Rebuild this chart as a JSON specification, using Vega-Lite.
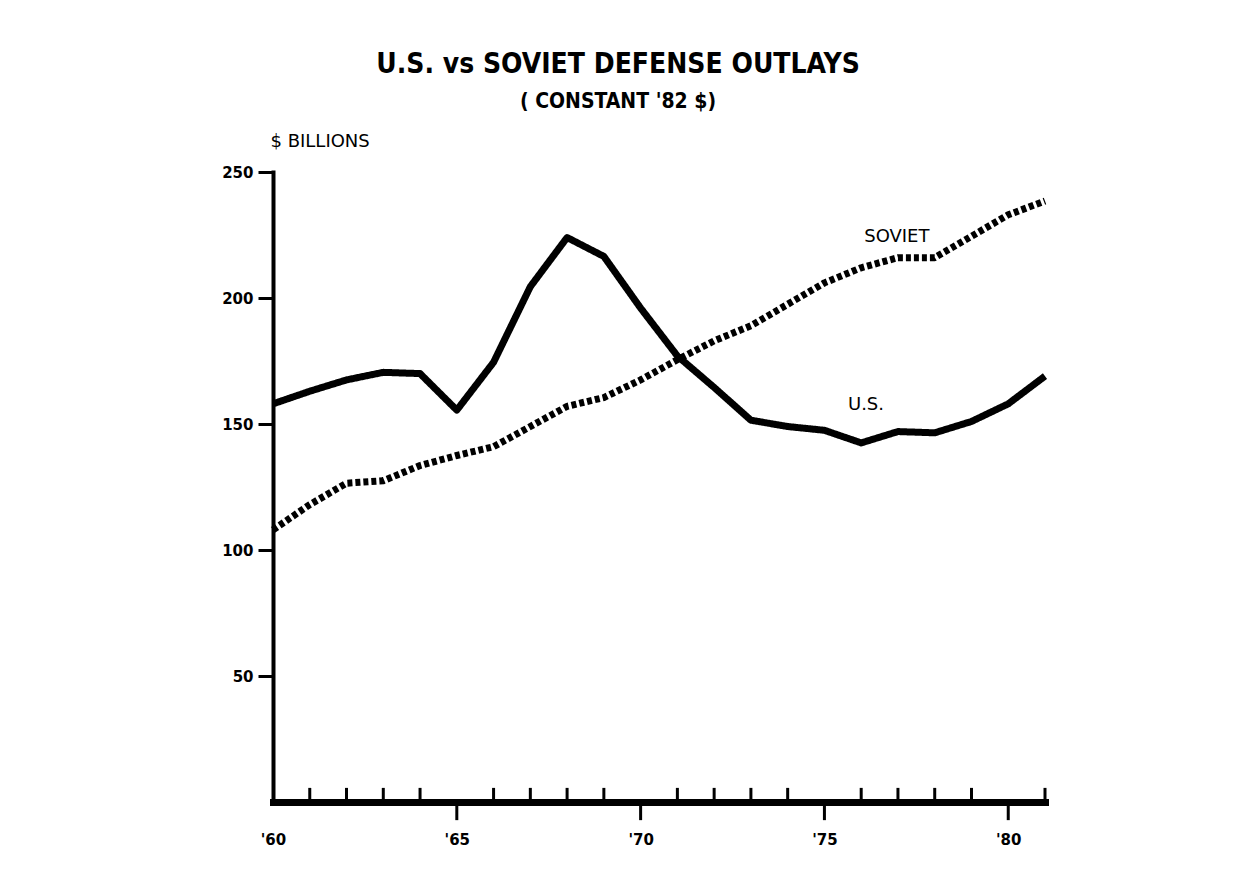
{
  "$schema": "https://vega.github.io/schema/vega-lite/v6.json",
  "width": 772,
  "height": 630,
  "autosize": "none",
  "padding": {"left": 273, "top": 172, "right": 209, "bottom": 82},
  "background": "white",
  "config": {"view": {"stroke": null}},
  "title": {
    "text": "U.S. vs SOVIET DEFENSE OUTLAYS",
    "subtitle": "( CONSTANT '82 $)",
    "anchor": "middle",
    "frame": "group",
    "dx": -41,
    "offset": 20,
    "font": "DejaVu Sans Condensed, Liberation Sans Narrow, sans-serif",
    "fontSize": 28,
    "fontWeight": "bold",
    "color": "black",
    "subtitleFont": "DejaVu Sans Condensed, Liberation Sans Narrow, sans-serif",
    "subtitleFontSize": 21,
    "subtitleFontWeight": "bold",
    "subtitleColor": "black",
    "subtitlePadding": 12
  },
  "resolve": {"axis": {"x": "independent"}},
  "datasets": {
    "outlays": [
      {"year": 1960, "value": 158, "series": "U.S."},
      {"year": 1961, "value": 163, "series": "U.S."},
      {"year": 1962, "value": 167.5, "series": "U.S."},
      {"year": 1963, "value": 170.5, "series": "U.S."},
      {"year": 1964, "value": 170, "series": "U.S."},
      {"year": 1965, "value": 155.5, "series": "U.S."},
      {"year": 1966, "value": 174.5, "series": "U.S."},
      {"year": 1967, "value": 204.5, "series": "U.S."},
      {"year": 1968, "value": 224, "series": "U.S."},
      {"year": 1969, "value": 216.5, "series": "U.S."},
      {"year": 1970, "value": 196, "series": "U.S."},
      {"year": 1971, "value": 177, "series": "U.S."},
      {"year": 1972, "value": 164.5, "series": "U.S."},
      {"year": 1973, "value": 151.5, "series": "U.S."},
      {"year": 1974, "value": 149, "series": "U.S."},
      {"year": 1975, "value": 147.5, "series": "U.S."},
      {"year": 1976, "value": 142.5, "series": "U.S."},
      {"year": 1977, "value": 147, "series": "U.S."},
      {"year": 1978, "value": 146.5, "series": "U.S."},
      {"year": 1979, "value": 151, "series": "U.S."},
      {"year": 1980, "value": 158, "series": "U.S."},
      {"year": 1981, "value": 169, "series": "U.S."},
      {"year": 1960, "value": 108, "series": "SOVIET"},
      {"year": 1961, "value": 118, "series": "SOVIET"},
      {"year": 1962, "value": 126.5, "series": "SOVIET"},
      {"year": 1963, "value": 127.5, "series": "SOVIET"},
      {"year": 1964, "value": 133.5, "series": "SOVIET"},
      {"year": 1965, "value": 137.5, "series": "SOVIET"},
      {"year": 1966, "value": 141, "series": "SOVIET"},
      {"year": 1967, "value": 149, "series": "SOVIET"},
      {"year": 1968, "value": 157, "series": "SOVIET"},
      {"year": 1969, "value": 160.5, "series": "SOVIET"},
      {"year": 1970, "value": 167.5, "series": "SOVIET"},
      {"year": 1971, "value": 175.5, "series": "SOVIET"},
      {"year": 1972, "value": 183, "series": "SOVIET"},
      {"year": 1973, "value": 189, "series": "SOVIET"},
      {"year": 1974, "value": 197.5, "series": "SOVIET"},
      {"year": 1975, "value": 206, "series": "SOVIET"},
      {"year": 1976, "value": 212, "series": "SOVIET"},
      {"year": 1977, "value": 216, "series": "SOVIET"},
      {"year": 1978, "value": 216, "series": "SOVIET"},
      {"year": 1979, "value": 224.5, "series": "SOVIET"},
      {"year": 1980, "value": 233, "series": "SOVIET"},
      {"year": 1981, "value": 238.5, "series": "SOVIET"}
    ],
    "minorYears": [
      {"year": 1961}, {"year": 1962}, {"year": 1963}, {"year": 1964},
      {"year": 1966}, {"year": 1967}, {"year": 1968}, {"year": 1969},
      {"year": 1971}, {"year": 1972}, {"year": 1973}, {"year": 1974},
      {"year": 1976}, {"year": 1977}, {"year": 1978}, {"year": 1979},
      {"year": 1981}
    ],
    "majorYears": [
      {"year": 1965}, {"year": 1970}, {"year": 1975}, {"year": 1980}
    ]
  },
  "layer": [
    {
      "data": {"name": "outlays"},
      "mark": {"type": "line", "color": "black", "strokeWidth": 7, "strokeJoin": "round", "strokeCap": "butt"},
      "encoding": {
        "x": {
          "field": "year",
          "type": "quantitative",
          "scale": {"domain": [1960, 1981], "nice": false, "zero": false},
          "axis": {
            "orient": "bottom",
            "title": null,
            "grid": false,
            "values": [1960, 1965, 1970, 1975, 1980],
            "labelExpr": "\"'\" + slice(toString(datum.value), 2)",
            "labelFont": "DejaVu Sans",
            "labelFontSize": 15,
            "labelFontWeight": "bold",
            "labelColor": "black",
            "labelPadding": 30,
            "labelFlush": false,
            "labelOverlap": false,
            "domainColor": "black",
            "domainWidth": 7,
            "domainCap": "square",
            "ticks": false,
            "tickSize": 18
          }
        },
        "y": {
          "field": "value",
          "type": "quantitative",
          "scale": {"domain": [0, 250], "nice": false},
          "axis": {
            "title": "$ BILLIONS",
            "titleAngle": 0,
            "titleAlign": "left",
            "titleBaseline": "middle",
            "titleX": -3,
            "titleY": -31,
            "titleFont": "DejaVu Sans",
            "titleFontSize": 18,
            "titleFontWeight": "normal",
            "titleColor": "black",
            "grid": false,
            "values": [50, 100, 150, 200, 250],
            "labelFont": "DejaVu Sans",
            "labelFontSize": 15,
            "labelFontWeight": "bold",
            "labelColor": "black",
            "labelPadding": 5,
            "domainColor": "black",
            "domainWidth": 4,
            "domainCap": "square",
            "tickColor": "black",
            "tickWidth": 3,
            "tickSize": 15
          }
        },
        "detail": {"field": "series"},
        "strokeDash": {
          "field": "series",
          "type": "nominal",
          "scale": {"domain": ["U.S.", "SOVIET"], "range": [[1, 0], [5, 3]]},
          "legend": null
        }
      }
    },
    {
      "data": {"name": "minorYears"},
      "mark": {"type": "rule", "color": "black", "strokeWidth": 3},
      "encoding": {
        "x": {"field": "year", "type": "quantitative", "axis": null},
        "y": {"datum": 0, "type": "quantitative"},
        "y2": {"datum": 5.6}
      }
    },
    {
      "data": {"name": "majorYears"},
      "mark": {"type": "rule", "color": "black", "strokeWidth": 3},
      "encoding": {
        "x": {"field": "year", "type": "quantitative", "axis": null},
        "y": {"datum": 0, "type": "quantitative"},
        "y2": {"datum": -7.2}
      }
    },
    {
      "data": {"values": [{"label": "SOVIET"}]},
      "mark": {"type": "text", "font": "DejaVu Sans", "fontSize": 18, "color": "black", "align": "center", "baseline": "middle"},
      "encoding": {
        "text": {"field": "label"},
        "x": {"datum": 1976.97, "type": "quantitative", "axis": null},
        "y": {"datum": 224.4, "type": "quantitative"}
      }
    },
    {
      "data": {"values": [{"label": "U.S."}]},
      "mark": {"type": "text", "font": "DejaVu Sans", "fontSize": 18, "color": "black", "align": "center", "baseline": "middle"},
      "encoding": {
        "text": {"field": "label"},
        "x": {"datum": 1976.13, "type": "quantitative", "axis": null},
        "y": {"datum": 157.5, "type": "quantitative"}
      }
    }
  ]
}
